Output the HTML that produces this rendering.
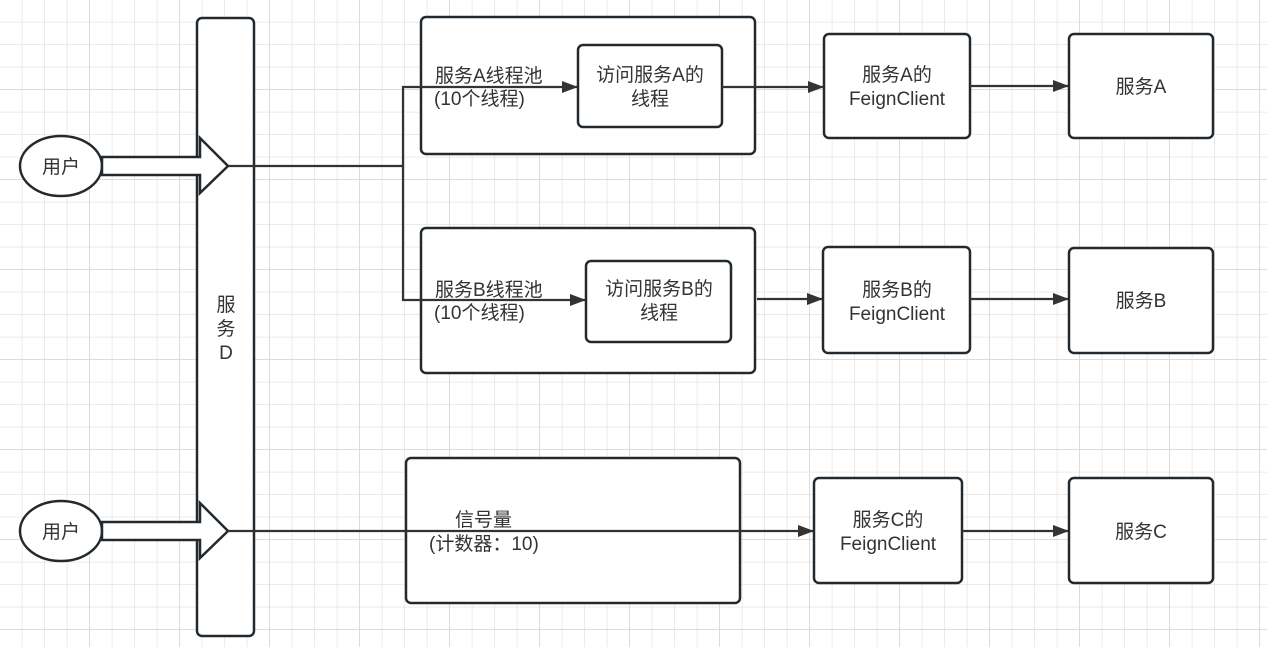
<!DOCTYPE html>
<html><head><meta charset="utf-8"><style>
html,body{margin:0;padding:0;background:#fff;}
svg{display:block;}
text{font-family:"Liberation Sans","Noto Sans CJK SC",sans-serif;font-size:19px;fill:#333;}
</style></head><body>
<svg width="1267" height="647" viewBox="0 0 1267 647" xmlns="http://www.w3.org/2000/svg">
<defs>
<pattern id="g" x="0" y="0" width="22.5" height="22.5" patternUnits="userSpaceOnUse">
<path d="M22.5 0V22.5M0 22.5H22.5" stroke="#e4e4e4" stroke-width="1.5" fill="none"/>
</pattern>
<pattern id="G" x="0" y="0" width="90" height="90" patternUnits="userSpaceOnUse">
<path d="M90 0V90M0 90H90" stroke="#dcdcdc" stroke-width="2" fill="none"/>
</pattern>
<marker id="ar" markerWidth="16" markerHeight="12" refX="15" refY="6" orient="auto" markerUnits="userSpaceOnUse">
<path d="M0 0L16 6L0 12Z" fill="#333"/>
</marker>
</defs>
<rect width="1267" height="647" fill="url(#g)"/>
<rect width="1267" height="647" fill="url(#G)"/>
<g fill="#fff" stroke="#222a30" stroke-width="2.5">
<rect x="197" y="18" width="57" height="618" rx="5"/>
<ellipse cx="61" cy="166" rx="41" ry="30"/>
<ellipse cx="61" cy="531" rx="41" ry="30"/>
<path d="M102 157H200V138L228 166L200 193V175H102Z"/>
<path d="M102 522H200V503L228 531L200 558V540H102Z"/>
<rect x="421" y="17" width="334" height="137" rx="5"/>
<rect x="578" y="45" width="144" height="82" rx="5"/>
<rect x="824" y="34" width="146" height="104" rx="5"/>
<rect x="1069" y="34" width="144" height="104" rx="5"/>
<rect x="421" y="228" width="334" height="145" rx="5"/>
<rect x="586" y="261" width="145" height="81" rx="5"/>
<rect x="823" y="247" width="147" height="106" rx="5"/>
<rect x="1069" y="248" width="144" height="105" rx="5"/>
<rect x="406" y="458" width="334" height="145" rx="5"/>
<rect x="814" y="478" width="148" height="105" rx="5"/>
<rect x="1069" y="478" width="144" height="105" rx="5"/>
</g>
<g fill="none" stroke="#333" stroke-width="2.2">
<path d="M228 166H403V87H577" marker-end="url(#ar)"/>
<path d="M403 166V300H585" marker-end="url(#ar)"/>
<path d="M722 87H823" marker-end="url(#ar)"/>
<path d="M970 86H1068" marker-end="url(#ar)"/>
<path d="M757 299H822" marker-end="url(#ar)"/>
<path d="M970 299H1068" marker-end="url(#ar)"/>
<path d="M228 531H813" marker-end="url(#ar)"/>
<path d="M962 531H1068" marker-end="url(#ar)"/>
</g>
<g text-anchor="middle">
<text x="61" y="173">用户</text>
<text x="61" y="538">用户</text>
<text x="226" y="311">服</text>
<text x="226" y="335">务</text>
<text x="226" y="359">D</text>
<text x="650" y="81">访问服务A的</text>
<text x="650" y="105">线程</text>
<text x="897" y="81">服务A的</text>
<text x="897" y="105">FeignClient</text>
<text x="1141" y="93">服务A</text>
<text x="659" y="295">访问服务B的</text>
<text x="659" y="319">线程</text>
<text x="897" y="296">服务B的</text>
<text x="897" y="320">FeignClient</text>
<text x="1141" y="307">服务B</text>
<text x="888" y="526">服务C的</text>
<text x="888" y="550">FeignClient</text>
<text x="1141" y="538">服务C</text>
</g>
<g>
<text x="435" y="82">服务A线程池</text>
<text x="434" y="105">(10个线程)</text>
<text x="435" y="296">服务B线程池</text>
<text x="434" y="319">(10个线程)</text>
<text x="455" y="526">信号量</text>
<text x="429" y="550">(计数器：10)</text>
</g>
</svg>
</body></html>
